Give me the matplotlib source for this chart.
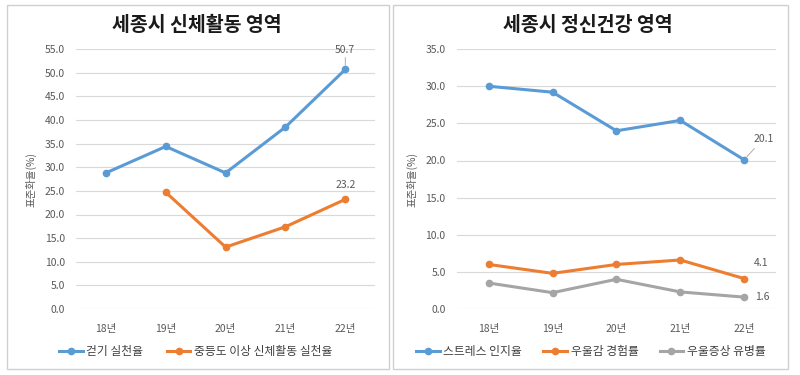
import matplotlib
matplotlib.use("Agg")
from matplotlib import pyplot as plt
from matplotlib.patches import Rectangle

plt.rcParams["font.family"] = ["Noto Sans CJK KR", "DejaVu Sans"]

YEARS = ["18년", "19년", "20년", "21년", "22년"]

# physical activity panel
WALKING = [28.8, 34.4, 28.8, 38.5, 50.7]
MODERATE = [None, 24.7, 13.1, 17.4, 23.2]

# mental health panel
STRESS = [30.0, 29.2, 24.0, 25.4, 20.1]
DEPRESSED_MOOD = [6.0, 4.8, 6.0, 6.6, 4.1]
DEPRESSION_SYMPTOM = [3.5, 2.2, 4.0, 2.3, 1.6]

BLUE = "#5b9bd5"
ORANGE = "#ed7d31"
GRAY = "#a5a5a5"
TEXT = "#595959"


def style_axes(ax, ymax):
    ax.set_xlim(-0.5, len(YEARS) - 0.5)
    ax.set_ylim(0, ymax)
    ax.set_yticks([v * 5.0 for v in range(int(ymax / 5) + 1)])
    ax.yaxis.set_major_formatter(matplotlib.ticker.FormatStrFormatter("%.1f"))
    ax.set_xticks(range(len(YEARS)))
    ax.set_xticklabels(YEARS)
    ax.grid(axis="y", color="#d9d9d9", linewidth=0.8)
    ax.set_axisbelow(True)
    ax.patch.set_alpha(0)
    for side in ["top", "right", "left", "bottom"]:
        ax.spines[side].set_visible(False)
    ax.tick_params(axis="y", length=0, labelsize=7.5, colors=TEXT, pad=8)
    ax.tick_params(axis="x", length=0, labelsize=7.5, colors=TEXT, pad=11)
    ax.set_ylabel("표준화율(%)", fontsize=7.5, color=TEXT, labelpad=6)


def plot_line(ax, values, color, label):
    xs = [i for i, v in enumerate(values) if v is not None]
    ys = [v for v in values if v is not None]
    ax.plot(xs, ys, color=color, linewidth=2.2, marker="o", markersize=4.5,
            label=label)


fig = plt.figure(figsize=(8, 3.75), dpi=100)

# panel frames
for x0, w in [(0.009, 0.477), (0.491, 0.494)]:
    fig.patches.append(Rectangle((x0, 0.017), w, 0.97, transform=fig.transFigure,
                                 fill=False, edgecolor="#d0d0d0",
                                 linewidth=1.0, zorder=-1))

# left panel
ax1 = fig.add_axes([0.095, 0.176, 0.374, 0.693])
plot_line(ax1, WALKING, BLUE, "걷기 실천율")
plot_line(ax1, MODERATE, ORANGE, "중등도 이상 신체활동 실천율")
style_axes(ax1, 55)
ax1.annotate("50.7", xy=(4, WALKING[4]), xytext=(0, 12), textcoords="offset points",
             ha="center", fontsize=7.5, color=TEXT,
             arrowprops=dict(arrowstyle="-", color="#a0a0a0", linewidth=0.6,
                             shrinkA=0, shrinkB=3))
ax1.annotate("23.2", xy=(4, MODERATE[4]), xytext=(0, 8), textcoords="offset points",
             ha="center", fontsize=7.5, color=TEXT)
ax1.legend(loc="center", bbox_to_anchor=(0.4, -0.165), ncol=2, frameon=False,
           fontsize=8.5, handlelength=2.0, handletextpad=0.3, columnspacing=2.0,
           labelcolor="#404040")
fig.text(0.246, 0.933, "세종시 신체활동 영역", ha="center", va="center",
         fontsize=14, fontweight="bold", color="#1a1a1a")

# right panel
ax2 = fig.add_axes([0.571, 0.176, 0.399, 0.693])
plot_line(ax2, STRESS, BLUE, "스트레스 인지율")
plot_line(ax2, DEPRESSED_MOOD, ORANGE, "우울감 경험률")
plot_line(ax2, DEPRESSION_SYMPTOM, GRAY, "우울증상 유병률")
style_axes(ax2, 35)
ax2.annotate("20.1", xy=(4, STRESS[4]), xytext=(14, 13), textcoords="offset points",
             ha="center", fontsize=7.5, color=TEXT,
             arrowprops=dict(arrowstyle="-", color="#a0a0a0", linewidth=0.6,
                             shrinkA=2, shrinkB=3))
ax2.annotate("4.1", xy=(4, DEPRESSED_MOOD[4]), xytext=(12, 9), textcoords="offset points",
             ha="center", fontsize=7.5, color=TEXT)
ax2.annotate("1.6", xy=(4, DEPRESSION_SYMPTOM[4]), xytext=(13, 0),
             textcoords="offset points", ha="center", va="center",
             fontsize=7.5, color=TEXT)
ax2.legend(loc="center", bbox_to_anchor=(0.42, -0.165), ncol=3, frameon=False,
           fontsize=8.5, handlelength=2.0, handletextpad=0.3, columnspacing=1.8,
           labelcolor="#404040")
fig.text(0.735, 0.933, "세종시 정신건강 영역", ha="center", va="center",
         fontsize=14, fontweight="bold", color="#1a1a1a")

fig.savefig("out.png", dpi=100)
